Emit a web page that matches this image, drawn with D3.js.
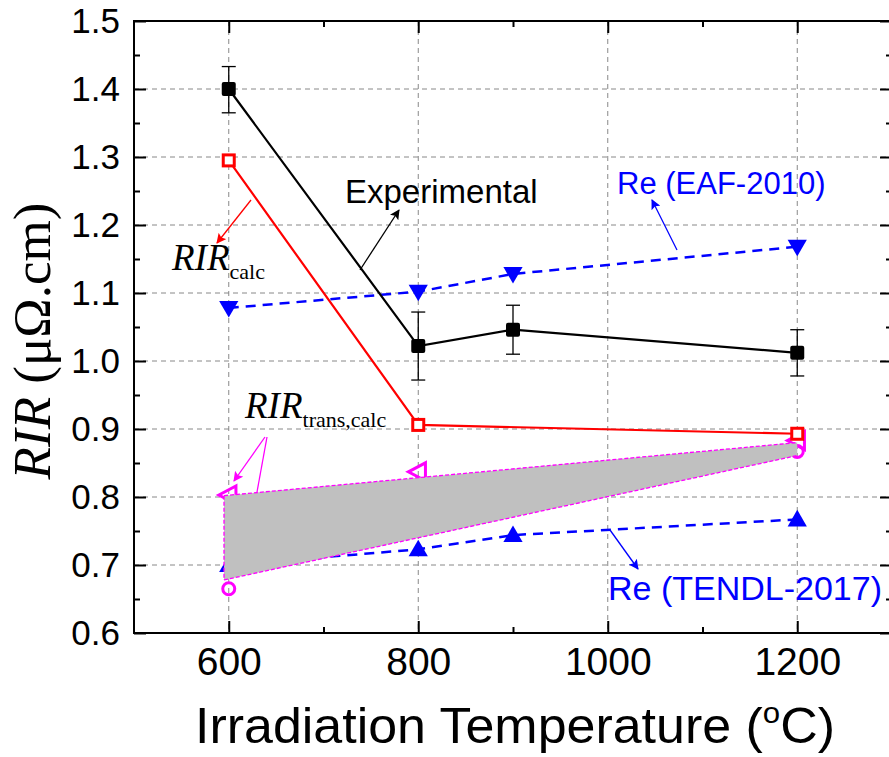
<!DOCTYPE html>
<html><head><meta charset="utf-8">
<script src="https://cdn.jsdelivr.net/npm/d3@7"></script>
<style>
html,body{margin:0;padding:0;background:#fff;}
svg{display:block;}
</style></head>
<body>
<svg id="chart" width="889" height="757"></svg>
<script>
// ---- data ----
const xTicks = [600, 800, 1000, 1200];
const xMinor = [700, 900, 1100];
const yTicks = [0.6, 0.7, 0.8, 0.9, 1.0, 1.1, 1.2, 1.3, 1.4, 1.5];
const yMinor = [0.65, 0.75, 0.85, 0.95, 1.05, 1.15, 1.25, 1.35, 1.45];

const expT = [600, 800, 900, 1200];
const expV = [1.400, 1.022, 1.046, 1.012];
const expErrUp = [0.033, 0.050, 0.036, 0.034];
const expErrDn = [0.035, 0.050, 0.036, 0.034];

const calcT = [600, 800, 1200];
const calcV = [1.295, 0.906, 0.893];

const eafT = [600, 800, 900, 1200];
const eafV = [1.078, 1.102, 1.128, 1.168];

const tendlT = [600, 800, 900, 1200];
const tendlV = [0.700, 0.723, 0.744, 0.767];

const transUpT = [600, 800, 1200];
const transUpV = [0.803, 0.837, 0.883];
const transLoT = [600, 1200];
const transLoV = [0.665, 0.867];

const bandT = [595, 1200];
const bandUpper = [0.802, 0.880];
const bandLower = [0.678, 0.861];

// ---- layout ----
const svg = d3.select("#chart");
const L = 134, R = 892, T = 21, B = 633;
const x = d3.scaleLinear().domain([500, 1300]).range([L, R]);
const y = d3.scaleLinear().domain([0.6, 1.5]).range([B, T]);
const sans = "'Liberation Sans', Arial, Helvetica, sans-serif";
const serif = "'Liberation Serif', 'Times New Roman', serif";

// grid
const grid = svg.append("g");
xTicks.forEach(t => grid.append("line")
  .attr("x1", x(t)).attr("x2", x(t)).attr("y1", T).attr("y2", B)
  .attr("stroke", "#888").attr("stroke-width", 1).attr("stroke-dasharray", "5,4"));
yTicks.slice(1, -1).forEach(t => grid.append("line")
  .attr("x1", L).attr("x2", R).attr("y1", y(t)).attr("y2", y(t))
  .attr("stroke", "#888").attr("stroke-width", 1).attr("stroke-dasharray", "5,4"));

// helpers
const line = d3.line().x(d => x(d[0])).y(d => y(d[1]));
const zip = (a, b) => a.map((v, i) => [v, b[i]]);

function triUp(cx, cy, s) { return `M${cx},${cy - s * 0.62} L${cx + s * 0.62},${cy + s * 0.45} L${cx - s * 0.62},${cy + s * 0.45}Z`; }
function triDown(cx, cy, s) { return `M${cx},${cy + s * 0.62} L${cx + s * 0.62},${cy - s * 0.45} L${cx - s * 0.62},${cy - s * 0.45}Z`; }
function triLeft(cx, cy, s) { return `M${cx - s * 0.55},${cy} L${cx + s * 0.4},${cy - s * 0.5} L${cx + s * 0.4},${cy + s * 0.5}Z`; }

// TENDL (under band)
svg.append("path").attr("d", line(zip(tendlT, tendlV)))
  .attr("fill", "none").attr("stroke", "#0000ff").attr("stroke-width", 2.5).attr("stroke-dasharray", "10,7");
svg.append("g").selectAll("path").data(zip(tendlT, tendlV)).join("path")
  .attr("d", d => triUp(x(d[0]), y(d[1]), 15.5)).attr("fill", "#0000ff");

// trans markers (under band)
svg.append("g").selectAll("path").data(zip(transUpT, transUpV)).join("path")
  .attr("d", d => triLeft(x(d[0]), y(d[1]), 18))
  .attr("fill", "none").attr("stroke", "#ff00ff").attr("stroke-width", 3);
svg.append("g").selectAll("circle").data(zip(transLoT, transLoV)).join("circle")
  .attr("cx", d => x(d[0])).attr("cy", d => y(d[1])).attr("r", 6)
  .attr("fill", "none").attr("stroke", "#ff00ff").attr("stroke-width", 3);

// band
const area = d3.area().x(d => x(d[0])).y0(d => y(d[1])).y1(d => y(d[2]));
const bandData = bandT.map((t, i) => [t, bandLower[i], bandUpper[i]]);
svg.append("path").attr("d", area(bandData)).attr("fill", "#c0c0c0");
svg.append("path").attr("d", line(zip(bandT, bandUpper)))
  .attr("fill", "none").attr("stroke", "#ff00ff").attr("stroke-width", 1.3).attr("stroke-dasharray", "4,2");
svg.append("path").attr("d", line(zip(bandT, bandLower)))
  .attr("fill", "none").attr("stroke", "#ff00ff").attr("stroke-width", 1.3).attr("stroke-dasharray", "4,2");
svg.append("line").attr("x1", x(bandT[0])).attr("x2", x(bandT[0]))
  .attr("y1", y(bandUpper[0])).attr("y2", y(bandLower[0]))
  .attr("stroke", "#ff00ff").attr("stroke-width", 1.3).attr("stroke-dasharray", "4,2");

// EAF
svg.append("path").attr("d", line(zip(eafT, eafV)))
  .attr("fill", "none").attr("stroke", "#0000ff").attr("stroke-width", 2.5).attr("stroke-dasharray", "10,7");
svg.append("g").selectAll("path").data(zip(eafT, eafV)).join("path")
  .attr("d", d => triDown(x(d[0]), y(d[1]), 15.5)).attr("fill", "#0000ff");

// experimental
svg.append("path").attr("d", line(zip(expT, expV)))
  .attr("fill", "none").attr("stroke", "#000").attr("stroke-width", 2.2);
const eb = svg.append("g").attr("stroke", "#000").attr("stroke-width", 1.3);
expT.forEach((t, i) => {
  const cx = x(t), y1 = y(expV[i] + expErrUp[i]), y2 = y(expV[i] - expErrDn[i]);
  eb.append("line").attr("x1", cx).attr("x2", cx).attr("y1", y1).attr("y2", y2);
  eb.append("line").attr("x1", cx - 7).attr("x2", cx + 7).attr("y1", y1).attr("y2", y1);
  eb.append("line").attr("x1", cx - 7).attr("x2", cx + 7).attr("y1", y2).attr("y2", y2);
});
svg.append("g").selectAll("rect").data(zip(expT, expV)).join("rect")
  .attr("x", d => x(d[0]) - 7).attr("y", d => y(d[1]) - 7)
  .attr("width", 14).attr("height", 14).attr("rx", 2).attr("fill", "#000");

// calc
svg.append("path").attr("d", line(zip(calcT, calcV)))
  .attr("fill", "none").attr("stroke", "#ff0000").attr("stroke-width", 2.2);
svg.append("g").selectAll("rect").data(zip(calcT, calcV)).join("rect")
  .attr("x", d => x(d[0]) - 5.5).attr("y", d => y(d[1]) - 5.5)
  .attr("width", 11).attr("height", 11).attr("fill", "#fff")
  .attr("stroke", "#ff0000").attr("stroke-width", 3);

// axes
function styleAxis(g) {
  g.select(".domain").remove();
  g.selectAll(".tick line").attr("stroke", "#000").attr("stroke-width", 2);
}
svg.append("g").attr("transform", `translate(0,${B})`)
  .call(d3.axisBottom(x).tickValues(xTicks).tickSize(-12).tickPadding(14).tickFormat(d3.format("d")))
  .call(styleAxis)
  .call(g => g.selectAll("text").attr("font-family", sans).attr("font-size", 39).attr("fill", "#000"));
svg.append("g").attr("transform", `translate(0,${B})`)
  .call(d3.axisBottom(x).tickValues(xMinor).tickSize(-6).tickFormat(""))
  .call(styleAxis);
svg.append("g").attr("transform", `translate(0,${T})`)
  .call(d3.axisTop(x).tickValues(xTicks).tickSize(-12).tickFormat(""))
  .call(styleAxis);
svg.append("g").attr("transform", `translate(0,${T})`)
  .call(d3.axisTop(x).tickValues(xMinor).tickSize(-6).tickFormat(""))
  .call(styleAxis);
svg.append("g").attr("transform", `translate(${L},0)`)
  .call(d3.axisLeft(y).tickValues(yTicks).tickSize(-12).tickPadding(14).tickFormat(d3.format(".1f")))
  .call(styleAxis)
  .call(g => g.selectAll("text").attr("font-family", sans).attr("font-size", 35).attr("fill", "#000"));
svg.append("g").attr("transform", `translate(${L},0)`)
  .call(d3.axisLeft(y).tickValues(yMinor).tickSize(-6).tickFormat(""))
  .call(styleAxis);
svg.append("g").attr("transform", `translate(${R},0)`)
  .call(d3.axisRight(y).tickValues(yTicks).tickSize(-12).tickFormat(""))
  .call(styleAxis);
svg.append("g").attr("transform", `translate(${R},0)`)
  .call(d3.axisRight(y).tickValues(yMinor).tickSize(-6).tickFormat(""))
  .call(styleAxis);
svg.append("rect").attr("x", L).attr("y", T).attr("width", R - L).attr("height", B - T)
  .attr("fill", "none").attr("stroke", "#000").attr("stroke-width", 2);

// axis titles
svg.append("text").attr("x", 515).attr("y", 743).attr("text-anchor", "middle")
  .attr("font-family", sans).attr("font-size", 50)
  .attr("textLength", 640).attr("lengthAdjust", "spacingAndGlyphs")
  .html('Irradiation Temperature (<tspan font-size="30" dy="-20">o</tspan><tspan dy="20">C)</tspan>');
const yt = svg.append("text").attr("transform", "translate(50,341) rotate(-90)")
  .attr("text-anchor", "middle").attr("font-family", serif).attr("font-size", 53);
yt.append("tspan").attr("font-style", "italic").text("RIR");
yt.append("tspan").text(" (μΩ.cm)");

// annotations
const defs = svg.append("defs");
function marker(id, color) {
  defs.append("marker").attr("id", id).attr("viewBox", "0 0 10 10").attr("refX", 9).attr("refY", 5)
    .attr("markerWidth", 10).attr("markerHeight", 10).attr("markerUnits", "userSpaceOnUse").attr("orient", "auto")
    .append("path").attr("d", "M0,0 L10,5 L0,10 L2,5Z").attr("fill", color);
}
marker("ak", "#000"); marker("ar", "#ff0000"); marker("ab", "#0000ff"); marker("am", "#ff00ff");
function arrow(x1, y1, x2, y2, color, id, w) {
  const l = svg.append("line").attr("x1", x1).attr("y1", y1).attr("x2", x2).attr("y2", y2)
    .attr("stroke", color).attr("stroke-width", w || 1.3);
  if (id) l.attr("marker-end", `url(#${id})`);
}
arrow(360, 270, 399, 210, "#000", "ak", 1.3);
arrow(251, 200, 217, 243, "#ff0000", "ar", 1.3);
arrow(677, 250, 652, 200, "#0000ff", "ab", 1.3);
arrow(610, 530, 638, 569, "#0000ff", "ab", 1.3);
arrow(265, 437, 234, 481, "#ff00ff", "am", 1.3);
arrow(267, 437, 257, 492, "#ff00ff", null, 1.3);

svg.append("text").attr("x", 345).attr("y", 203).attr("font-family", sans).attr("font-size", 33).text("Experimental");
svg.append("text").attr("x", 617).attr("y", 194).attr("font-family", sans).attr("font-size", 31).attr("fill", "#0000ff").text("Re (EAF-2010)");
svg.append("text").attr("x", 608).attr("y", 600).attr("font-family", sans).attr("font-size", 34).attr("fill", "#0000ff").text("Re (TENDL-2017)");
const t1 = svg.append("text").attr("x", 172).attr("y", 270).attr("font-family", serif);
t1.append("tspan").attr("font-style", "italic").attr("font-size", 37).text("RIR");
t1.append("tspan").attr("font-size", 22).attr("dy", 9).text("calc");
const t2 = svg.append("text").attr("x", 245).attr("y", 418).attr("font-family", serif);
t2.append("tspan").attr("font-style", "italic").attr("font-size", 37).text("RIR");
t2.append("tspan").attr("font-size", 22).attr("dy", 9).text("trans,calc");
</script>
</body></html>
